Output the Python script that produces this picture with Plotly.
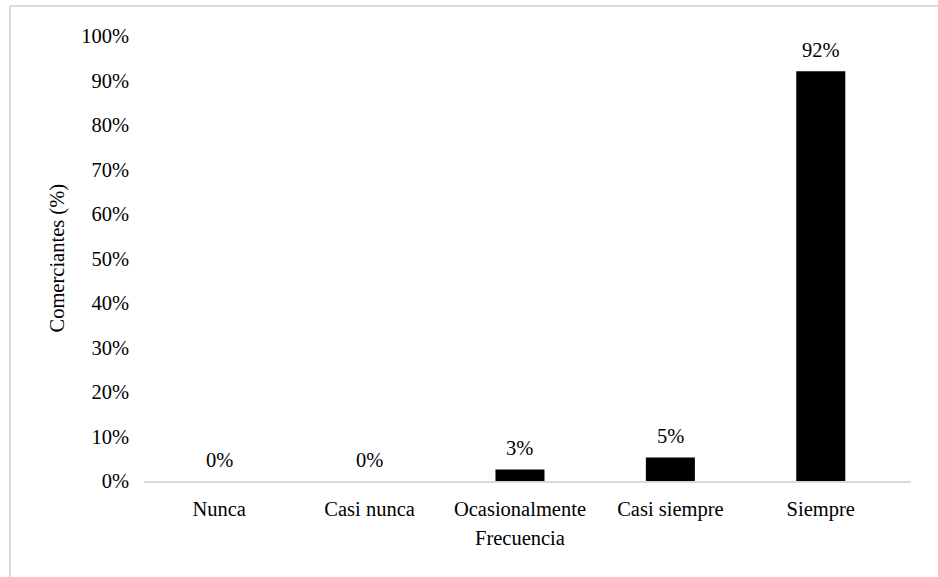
import plotly.graph_objects as go

# Survey responses: how often merchants do it
categorias = ["Nunca", "Casi nunca", "Ocasionalmente", "Casi siempre", "Siempre"]
porcentajes = [0.0, 0.0, 2.6, 5.3, 92.1]
ticks_y = [0, 10, 20, 30, 40, 50, 60, 70, 80, 90, 100]
ticks_y_texto = [f"{v}%" for v in ticks_y]

FONT = "Liberation Serif"
FS = 20.5
GRIS = "#d9d9d9"

W, H = 938, 577
L, R, T, B = 144, 27, 36, 96
pw, ph = W - L - R, H - T - B

def px_x(p):
    return (p - L) / pw

def px_y(p):
    return (H - B - p) / ph

fig = go.Figure()
fig.add_trace(go.Bar(
    x=list(range(len(categorias))),
    y=porcentajes,
    width=0.326,
    marker=dict(color="black", line=dict(width=0)),
    hoverinfo="skip",
))

# value labels above each bar
annotations = [
    dict(x=i, y=v, xref="x", yref="y", text=f"{round(v)}%", showarrow=False,
         yanchor="bottom", yshift=8, font=dict(family=FONT, size=FS, color="#000"))
    for i, v in enumerate(porcentajes)
]
annotations.append(dict(
    x=px_x(57), y=0.5, xref="paper", yref="paper", text="Comerciantes (%)",
    textangle=-90, showarrow=False, xanchor="center", yanchor="middle",
    font=dict(family=FONT, size=FS, color="#000")))
annotations.append(dict(
    x=2, y=px_y(538), xref="x", yref="paper", text="Frecuencia",
    showarrow=False, xanchor="center", yanchor="middle",
    font=dict(family=FONT, size=FS, color="#000")))

shapes = [
    # chart frame (left and top edges)
    dict(type="line", xref="paper", yref="paper", x0=px_x(10), x1=px_x(10),
         y0=px_y(6), y1=px_y(H + 10), line=dict(color=GRIS, width=2)),
    dict(type="line", xref="paper", yref="paper", x0=px_x(10), x1=px_x(W + 10),
         y0=px_y(6), y1=px_y(6), line=dict(color=GRIS, width=2)),
]

fig.update_layout(
    width=W, height=H,
    margin=dict(l=L, r=R, t=T, b=B, autoexpand=False),
    paper_bgcolor="white", plot_bgcolor="white",
    showlegend=False,
    font=dict(family=FONT, size=FS, color="#000"),
    annotations=annotations,
    shapes=shapes,
    xaxis=dict(
        range=[-0.5, 4.6], tickmode="array",
        tickvals=list(range(len(categorias))), ticktext=categorias,
        showgrid=False, zeroline=False, showline=True, linecolor=GRIS, linewidth=2,
        ticks="", ticklabelstandoff=8, fixedrange=True,
    ),
    yaxis=dict(
        range=[0, 100], tickmode="array", tickvals=ticks_y, ticktext=ticks_y_texto,
        showgrid=False, zeroline=False, showline=False, ticks="",
        ticklabelstandoff=14, fixedrange=True,
    ),
)

fig.write_html("out.html", config={"displayModeBar": False})
